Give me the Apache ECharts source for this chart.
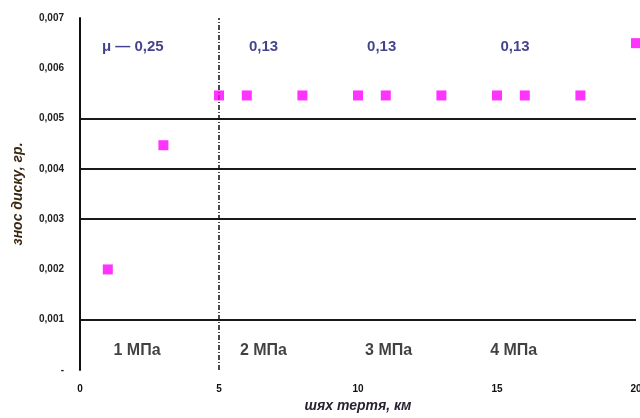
<!DOCTYPE html>
<html>
<head>
<meta charset="utf-8">
<script src="https://cdn.jsdelivr.net/npm/echarts@6/dist/echarts.min.js"></script>
<style>
html,body{margin:0;padding:0;background:#fff;overflow:hidden;width:100%;height:100%;}
#chart{width:640px;height:418px;}
</style>
</head>
<body>
<div id="chart"></div>
<script>
// data
const pathKm = [1, 3, 5, 6, 8, 10, 11, 13, 15, 16, 18, 20];
const wearGr = [0.002, 0.00447, 0.00546, 0.00546, 0.00546, 0.00546, 0.00546, 0.00546, 0.00546, 0.00546, 0.00546, 0.0065];
const frictionLabels = ['μ — 0,25', '0,13', '0,13', '0,13'];
const frictionX = [1.9, 6.6, 10.85, 15.65];
const frictionY = 0.00642;
const pressureLabels = ['1 МПа', '2 МПа', '3 МПа', '4 МПа'];
const pressureX = [2.05, 6.6, 11.1, 15.6];
const pressureY = 0.00038;
const dividerX = 5;
const yTicks = [0, 0.001, 0.002, 0.003, 0.004, 0.005, 0.006, 0.007];
const xTicks = [0, 5, 10, 15, 20];

const chart = echarts.init(document.getElementById('chart'), null, {renderer: 'canvas'});
const font = 'Liberation Sans, Arial, sans-serif';

chart.setOption({
  backgroundColor: '#ffffff',
  animation: false,
  grid: {left: 80, right: 4, top: 18, bottom: 48, containLabel: false, outerBoundsMode: 'none'},
  xAxis: {
    type: 'value',
    min: xTicks[0], max: xTicks[xTicks.length - 1], interval: 5,
    axisLine: {show: false},
    axisTick: {show: false},
    splitLine: {show: false},
    axisLabel: {color: '#111', fontSize: 10, fontWeight: 'bold', fontFamily: font, margin: 14},
    name: 'шях тертя, км',
    nameLocation: 'middle',
    nameGap: 28,
    nameTextStyle: {color: '#2b2233', fontSize: 14, fontStyle: 'italic', fontWeight: 'bold', fontFamily: font}
  },
  yAxis: {
    type: 'value',
    min: yTicks[0], max: yTicks[yTicks.length - 1], interval: 0.001,
    axisLine: {show: true, lineStyle: {color: '#111', width: 2}},
    axisTick: {show: false},
    splitLine: {show: true, lineStyle: {color: ['transparent', '#1a1a1a', 'transparent', '#1a1a1a', '#1a1a1a', '#1a1a1a', 'transparent', 'transparent'], width: 2}},
    axisLabel: {
      color: '#222', fontSize: 10, fontWeight: 'bold', fontFamily: font, margin: 16,
      formatter: v => v === 0 ? '-' : v.toFixed(3).replace('.', ',')
    },
    name: 'знос диску, гр.',
    nameLocation: 'middle',
    nameGap: 55,
    nameRotate: 90,
    nameTextStyle: {color: '#3a2810', fontSize: 14, fontStyle: 'italic', fontWeight: 'bold', fontFamily: font}
  },
  series: [
    {
      type: 'scatter',
      symbol: 'rect',
      symbolSize: 10,
      itemStyle: {color: '#ff00ff'},
      data: pathKm.map((x, i) => [x, wearGr[i]]),
      markLine: {
        silent: true,
        symbol: 'none',
        label: {show: false},
        lineStyle: {color: '#111', type: [5, 2, 1, 2], width: 1.5},
        data: [{xAxis: dividerX}]
      },
      z: 5
    },
    {
      type: 'scatter',
      symbolSize: 0,
      silent: true,
      data: frictionLabels.map((t, i) => ({value: [frictionX[i], frictionY], name: t})),
      label: {show: true, position: 'inside', formatter: p => p.name, color: '#14146e', fontSize: 15, fontWeight: 'bold', fontFamily: font}
    },
    {
      type: 'scatter',
      symbolSize: 0,
      silent: true,
      data: pressureLabels.map((t, i) => ({value: [pressureX[i], pressureY], name: t})),
      label: {show: true, position: 'inside', formatter: p => p.name, color: '#111', fontSize: 16, fontWeight: 'bold', fontFamily: font}
    }
  ]
});
</script>
</body>
</html>
